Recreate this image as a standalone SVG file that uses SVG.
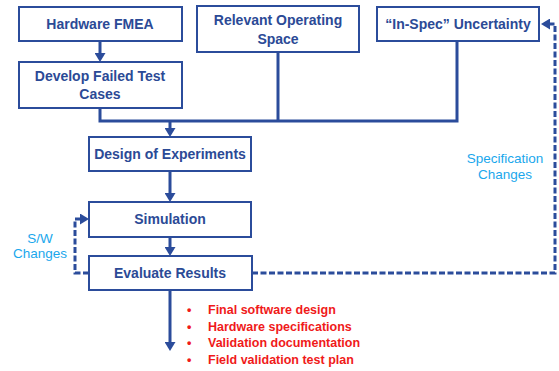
<svg xmlns="http://www.w3.org/2000/svg" width="559" height="371" viewBox="0 0 559 371">
  <defs>
    <style>
      .box { fill: #ffffff; stroke: #2b4c9b; stroke-width: 2; }
      .lbl { font-family: "Liberation Sans", Arial, sans-serif; font-weight: bold; font-size: 14px; fill: #2b4a96; text-anchor: middle; }
      .conn { fill: none; stroke: #2b4c9b; stroke-width: 3; }
      .dash { stroke-dasharray: 6 2.5; }
      .note { font-family: "Liberation Sans", Arial, sans-serif; font-size: 13.5px; fill: #1aa7ec; text-anchor: middle; }
      .out { font-family: "Liberation Sans", Arial, sans-serif; font-weight: bold; font-size: 12.5px; fill: #f01a1a; }
    </style>
    <marker id="arr" markerUnits="userSpaceOnUse" markerWidth="11" markerHeight="11" refX="6" refY="5.5" orient="auto">
      <path d="M0,0 L9,5.5 L0,11 z" fill="#2b4c9b"/>
    </marker>
  </defs>

  <g id="connectors">
    <path class="conn" d="M100,41 V59" marker-end="url(#arr)"/>
    <path class="conn" d="M100,108 V121 H457 V41"/>
    <path class="conn" d="M278,52 V121"/>
    <path class="conn" d="M170,121 V134" marker-end="url(#arr)"/>
    <path class="conn" d="M170,171 V199" marker-end="url(#arr)"/>
    <path class="conn" d="M170,237 V253" marker-end="url(#arr)"/>
    <path class="conn" d="M170,290 V348" marker-end="url(#arr)"/>
    <path class="conn dash" d="M252,273 H555 V24 H544" marker-end="url(#arr)"/>
    <path class="conn dash" d="M89,273 H75 V219 H86" marker-end="url(#arr)"/>
  </g>

  <g id="hardware-fmea">
    <rect class="box" x="19" y="7" width="163" height="34"/>
    <text class="lbl" x="100" y="29">Hardware FMEA</text>
  </g>
  <g id="develop-failed">
    <rect class="box" x="19" y="62" width="163" height="46"/>
    <text class="lbl" x="100" y="81">Develop Failed Test</text>
    <text class="lbl" x="100" y="99">Cases</text>
  </g>
  <g id="operating-space">
    <rect class="box" x="197" y="6" width="162" height="46"/>
    <text class="lbl" x="278" y="25">Relevant Operating</text>
    <text class="lbl" x="278" y="44">Space</text>
  </g>
  <g id="in-spec">
    <rect class="box" x="377" y="7" width="162" height="34"/>
    <text class="lbl" x="458" y="29">“In-Spec” Uncertainty</text>
  </g>
  <g id="doe">
    <rect class="box" x="89" y="137" width="162" height="34"/>
    <text class="lbl" x="170" y="159">Design of Experiments</text>
  </g>
  <g id="simulation">
    <rect class="box" x="89" y="202" width="162" height="35"/>
    <text class="lbl" x="170" y="224">Simulation</text>
  </g>
  <g id="evaluate">
    <rect class="box" x="89" y="256" width="163" height="34"/>
    <text class="lbl" x="170" y="278">Evaluate Results</text>
  </g>

  <g id="sw-changes">
    <text class="note" x="40" y="243">S/W</text>
    <text class="note" x="40" y="258">Changes</text>
  </g>
  <g id="spec-changes">
    <text class="note" x="505" y="163">Specification</text>
    <text class="note" x="505" y="179">Changes</text>
  </g>

  <g id="outputs">
    <text class="out" x="187" y="314">•</text>
    <text class="out" x="208" y="314">Final software design</text>
    <text class="out" x="187" y="331">•</text>
    <text class="out" x="208" y="331">Hardware specifications</text>
    <text class="out" x="187" y="347">•</text>
    <text class="out" x="208" y="347">Validation documentation</text>
    <text class="out" x="187" y="364">•</text>
    <text class="out" x="208" y="364">Field validation test plan</text>
  </g>
</svg>
